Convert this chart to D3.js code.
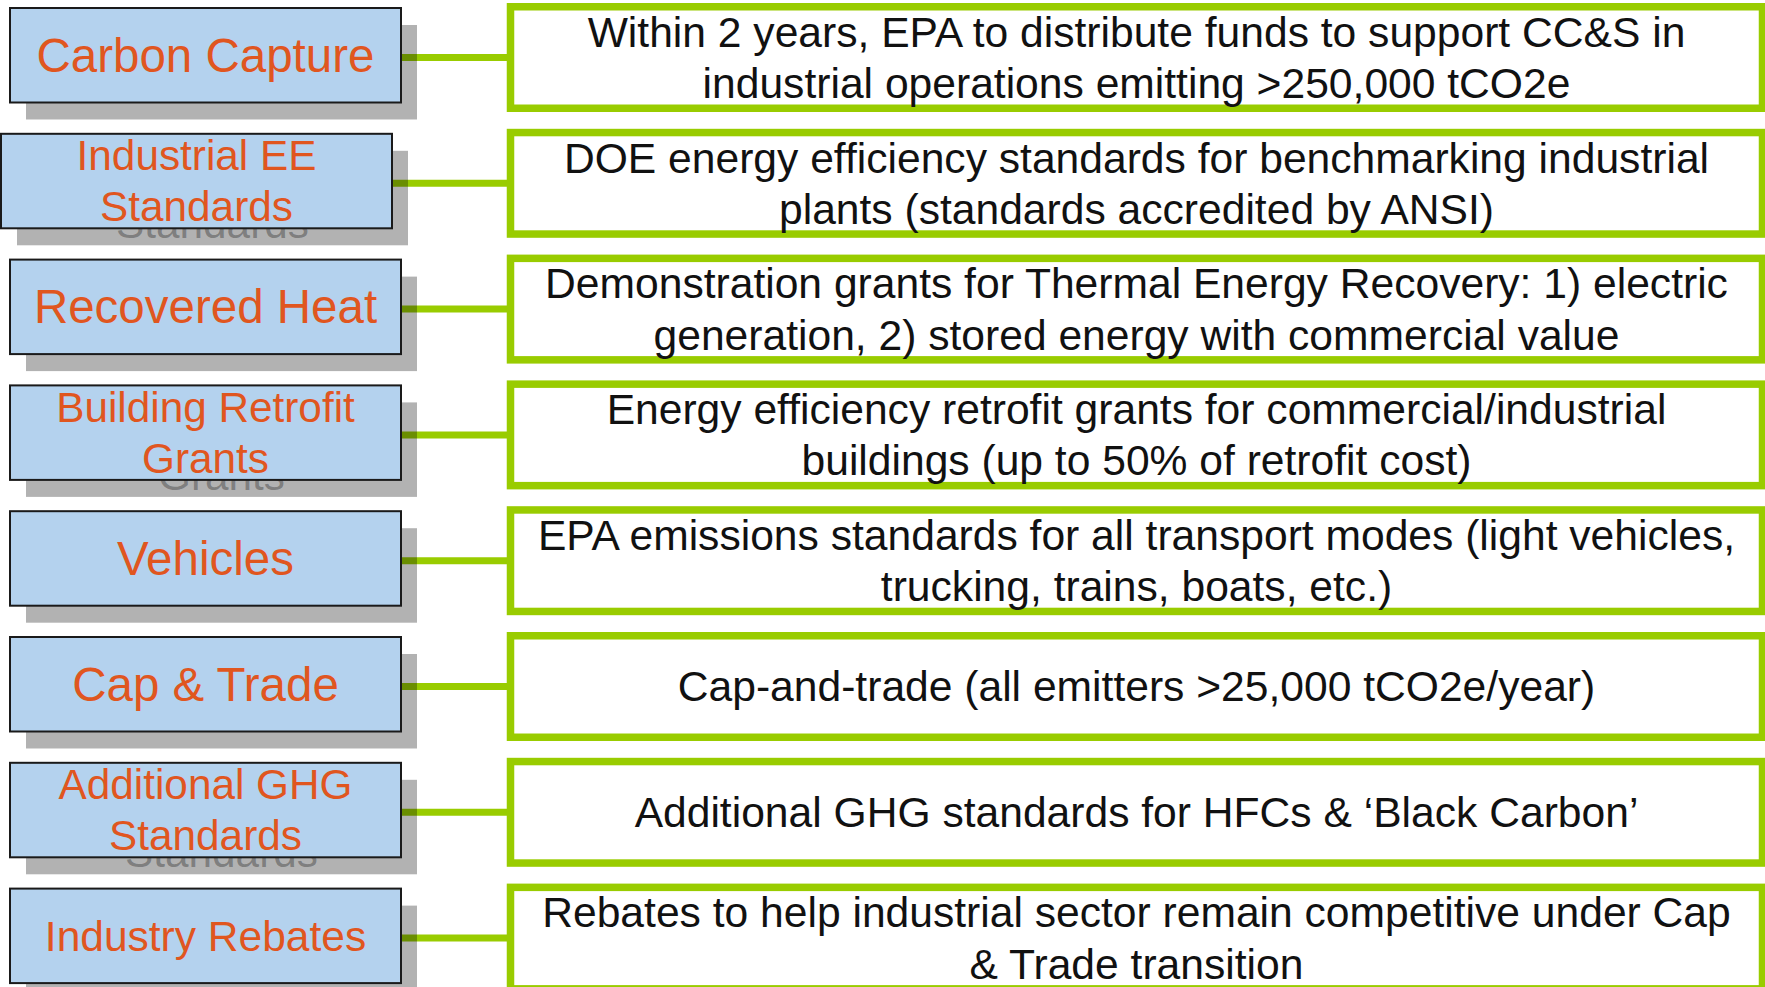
<!DOCTYPE html>
<html>
<head>
<meta charset="utf-8">
<script src="https://cdn.jsdelivr.net/npm/d3@7"></script>
<style>
  html, body { margin: 0; padding: 0; background: #fff; }
  svg { display: block; }
  text { font-family: Arial, "Liberation Sans", sans-serif; }
</style>
</head>
<body>
<svg id="chart"></svg>
<script>
(function(d3) {
  "use strict";

  // left hand labels (line breaks as \n)
  var categories = [
    "Carbon Capture",
    "Industrial EE\nStandards",
    "Recovered Heat",
    "Building Retrofit\nGrants",
    "Vehicles",
    "Cap & Trade",
    "Additional GHG\nStandards",
    "Industry Rebates"
  ];

  // right hand descriptions
  var descriptions = [
    "Within 2 years, EPA to distribute funds to support CC&S in\nindustrial operations emitting >250,000 tCO2e",
    "DOE energy efficiency standards for benchmarking industrial\nplants (standards accredited by ANSI)",
    "Demonstration grants for Thermal Energy Recovery: 1) electric\ngeneration, 2) stored energy with commercial value",
    "Energy efficiency retrofit grants for commercial/industrial\nbuildings (up to 50% of retrofit cost)",
    "EPA emissions standards for all transport modes (light vehicles,\ntrucking, trains, boats, etc.)",
    "Cap-and-trade (all emitters >25,000 tCO2e/year)",
    "Additional GHG standards for HFCs & \u2018Black Carbon\u2019",
    "Rebates to help industrial sector remain competitive under Cap\n& Trade transition"
  ];

  var width = 1765;
  var height = 987;
  var step = 125.8;      // row pitch
  var band = 109;        // outer height of green frame
  var green = "#99cc00";
  var orange = "#e0561f";
  var blue = "#b4d2ee";

  var rows = categories.map(function(c, i) {
    return { cat: c, desc: descriptions[i] };
  });

  var y = d3.scaleBand()
    .domain(categories)
    .range([3, 3 + (categories.length - 1) * step + band])
    .paddingInner((step - band) / step)
    .paddingOuter(0);

  var box = { x: 10, w: 391, h: 94.5, dy: 5 };
  var frame = { x: 510.5, w: 1252, sw: 7.5 };
  var shadow = { x: 16, y: 17 };

  var svg = d3.select("#chart")
    .attr("width", width)
    .attr("height", height);

  // box 2 sits a bit to the left in the original slide
  function nudge(d) { return d.cat === "Industrial EE\nStandards" ? -9 : 0; }
  function rowMid(d) { return y(d.cat) + y.bandwidth() / 2; }
  function boxTop(d) { return y(d.cat) + box.dy; }

  function lineY(cy, i, n, fs) {
    return cy + (i - (n - 1) / 2) * fs * 1.2 + fs * 0.35;
  }

  function lines(sel, text, cx, cy, fs) {
    var parts = text.split("\n");
    parts.forEach(function(p, i) {
      sel.append("text")
        .attr("x", cx)
        .attr("y", lineY(cy, i, parts.length, fs))
        .attr("text-anchor", "middle")
        .style("font-size", fs + "px")
        .text(p);
    });
  }

  // measure single line labels to pick font size
  var probe = svg.append("text").style("font-size", "47.5px");
  function labelSize(t) {
    if (t.indexOf("\n") >= 0) return 42.3;
    probe.text(t);
    return probe.node().getComputedTextLength() > 352 ? 42.5 : 47.5;
  }
  rows.forEach(function(d) { d.fs = labelSize(d.cat); });
  probe.remove();

  // connectors
  svg.append("g").selectAll("line")
    .data(rows)
    .enter().append("line")
      .attr("x1", function(d) { return box.x + box.w + nudge(d) - 6; })
      .attr("x2", frame.x)
      .attr("y1", rowMid)
      .attr("y2", rowMid)
      .attr("stroke", green)
      .attr("stroke-width", 7);

  // green frames with descriptions
  var right = svg.append("g").selectAll("g")
    .data(rows)
    .enter().append("g");
  right.append("rect")
    .attr("x", frame.x)
    .attr("y", function(d) { return y(d.cat) + frame.sw / 2; })
    .attr("width", frame.w)
    .attr("height", y.bandwidth() - frame.sw)
    .attr("fill", "#fff")
    .attr("stroke", green)
    .attr("stroke-width", frame.sw);
  right.each(function(d) {
    var g = d3.select(this).append("g").attr("fill", "#111");
    lines(g, d.desc, frame.x + frame.w / 2, rowMid(d), 42.6);
  });

  // drop shadows (box + ghost of overflowing text line)
  var defs = svg.append("defs");
  var sh = svg.append("g").selectAll("g")
    .data(rows)
    .enter().append("g")
      .attr("transform", function(d) { return "translate(" + (shadow.x + nudge(d)) + "," + shadow.y + ")"; });
  sh.append("rect")
    .attr("x", box.x)
    .attr("y", boxTop)
    .attr("width", box.w)
    .attr("height", box.h)
    .attr("fill", "#000")
    .attr("fill-opacity", 0.3);
  sh.filter(function(d) { return d.cat.indexOf("\n") >= 0; })
    .each(function(d, i) {
      var parts = d.cat.split("\n");
      var last = parts[parts.length - 1];
      var id = "clip" + i;
      // only the part below the box is visible
      defs.append("clipPath").attr("id", id)
        .append("rect")
          .attr("x", box.x)
          .attr("y", boxTop(d) + box.h - shadow.y)
          .attr("width", box.w)
          .attr("height", shadow.y);
      d3.select(this).append("text")
        .attr("clip-path", "url(#" + id + ")")
        .attr("x", box.x + box.w / 2)
        .attr("y", lineY(boxTop(d) + box.h / 2, parts.length - 1, parts.length, d.fs))
        .attr("text-anchor", "middle")
        .attr("fill", "#000")
        .attr("fill-opacity", 0.3)
        .style("font-size", d.fs + "px")
        .text(last);
    });

  // label boxes
  var left = svg.append("g").selectAll("g")
    .data(rows)
    .enter().append("g")
      .attr("transform", function(d) { return "translate(" + nudge(d) + ",0)"; });
  left.append("rect")
    .attr("x", box.x)
    .attr("y", boxTop)
    .attr("width", box.w)
    .attr("height", box.h)
    .attr("fill", blue)
    .attr("stroke", "#1a1a1a")
    .attr("stroke-width", 2);
  left.each(function(d) {
    var g = d3.select(this).append("g").attr("fill", orange);
    lines(g, d.cat, box.x + box.w / 2, boxTop(d) + box.h / 2, d.fs);
  });

})(d3);
</script>
</body>
</html>
